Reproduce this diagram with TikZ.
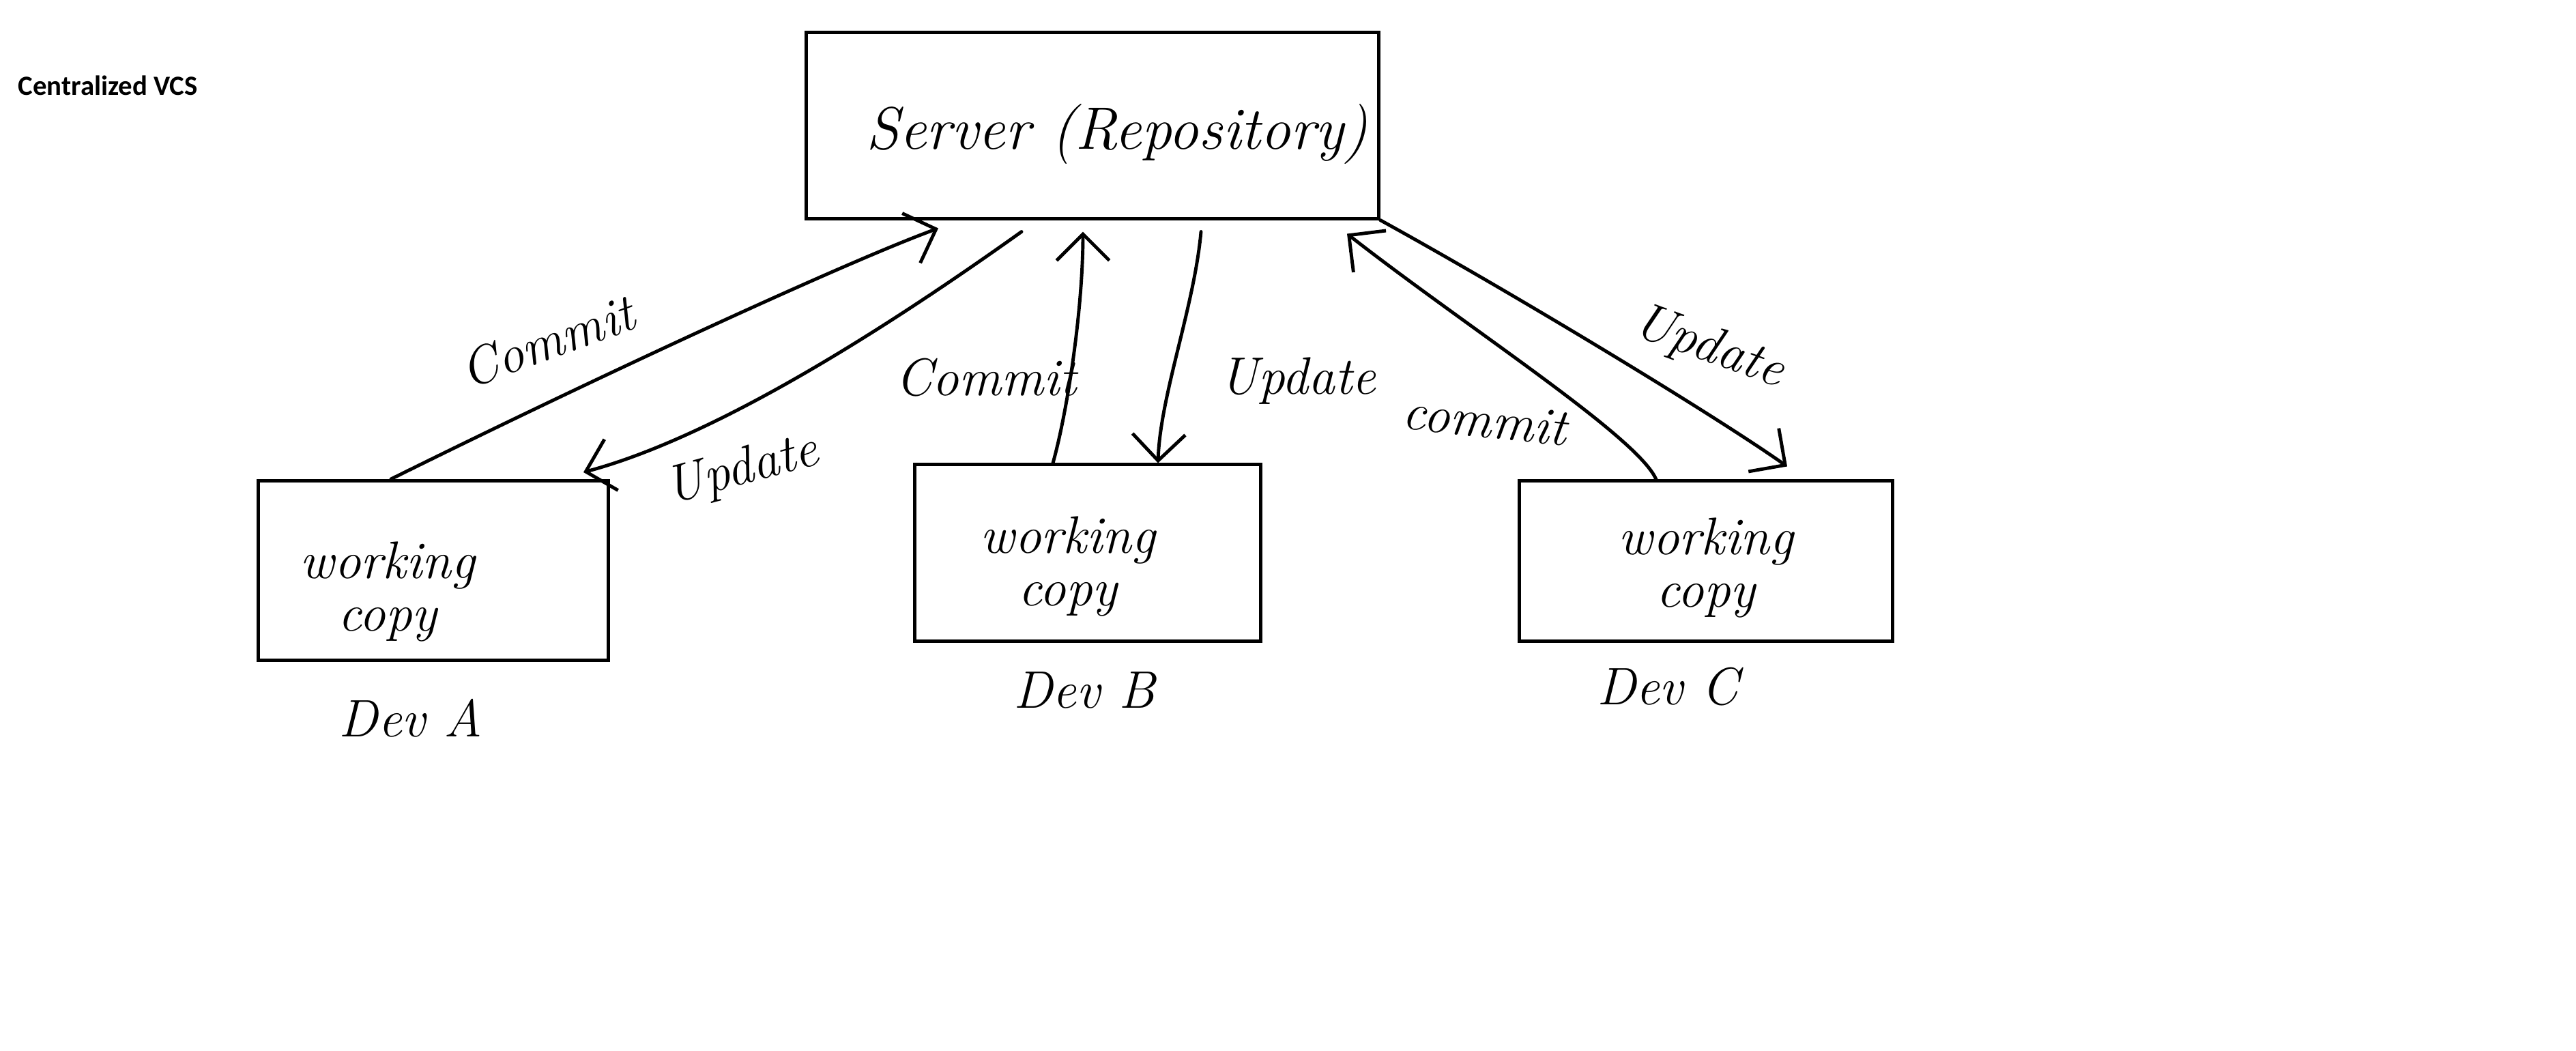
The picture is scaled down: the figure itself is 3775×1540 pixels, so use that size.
\documentclass[tikz,border=0pt]{standalone}
\usepackage{fontspec}
\newfontfamily\titlefont{Carlito}
\usetikzlibrary{positioning, calc, arrows.meta}
\tikzset{
box/.style={draw, rectangle, line width=1.4pt, inner sep=0pt},
hand/.style={font=\fontsize{22}{22}\selectfont\itshape},
flow/.style={line width=1.4pt, line cap=round, -{Straight Barb[length=11pt, width=22pt]}},
}

\begin{document}
\begin{tikzpicture}[x=0.01cm, y=-0.01cm]
    \useasboundingbox (0,0) rectangle (3775,1540);

    % title
    \node[anchor=west, inner sep=0pt, font=\titlefont\bfseries\fontsize{11.6}{13}\selectfont] (title) at (26,125) {Centralized VCS};

    % server and working copies
    \node[box, minimum width=8.38cm, minimum height=2.72cm,
          label={[font=\fontsize{25}{28}\selectfont\itshape, xshift=0.36cm, yshift=-0.13cm]center:Server (Repository)}] (server) at (1601,184) {};
    \node[box, minimum width=5.13cm, minimum height=2.63cm,
          label={[hand, align=center, xshift=-0.67cm, yshift=-0.31cm]center:working\\copy}] (devA) at (635,836) {};
    \node[box, minimum width=5.06cm, minimum height=2.58cm,
          label={[hand, align=center, xshift=-0.29cm, yshift=-0.2cm]center:working\\copy}] (devB) at (1594,810) {};
    \node[box, minimum width=5.46cm, minimum height=2.34cm,
          label={[hand, align=center, yshift=-0.1cm]center:working\\copy}] (devC) at (2500,822) {};

    % developer names
    \node[hand] (nameA) at (602,1052) {Dev A};
    \node[hand] (nameB) at (1589,1011) {Dev B};
    \node[hand] (nameC) at (2444,1006) {Dev C};

    % Dev A
    \draw[flow] ($(devA.north)+(-62,0)$) .. controls (900,540) and (1250,380) .. ($(server.south)+(-226,12)$);
    \draw[flow] ($(server.south)+(-104,17)$) .. controls (1300,480) and (1050,640) .. ($(devA.north)+(220,-10)$);
    \node[hand, rotate=20] (commitA) at (802,500) {Commit};
    \node[hand, rotate=15] (updateA) at (1088,690) {Update};

    % Dev B
    \draw[flow] ($(devB.north)+(-51,0)$) .. controls (1565,600) and (1587,450) .. ($(server.south)+(-14,17)$);
    \draw[flow] ($(server.south)+(159,17)$) .. controls (1750,450) and (1700,580) .. ($(devB.north)+(103,0)$);
    \node[hand] (commitB) at (1445,553) {Commit};
    \node[hand] (updateB) at (1902,558) {Update};

    % Dev C
    \draw[flow] ($(devC.north)+(-73,0)$) .. controls (2400,640) and (2150,480) .. ($(server.south)+(373,20)$);
    \draw[flow] (server.south east) .. controls (2200,420) and (2500,600) .. ($(devC.north)+(119,-19)$);
    \node[hand, rotate=-6] (commitC) at (2176,616) {commit};
    \node[hand, rotate=-20] (updateC) at (2504,510) {Update};

\end{tikzpicture}
\end{document}
